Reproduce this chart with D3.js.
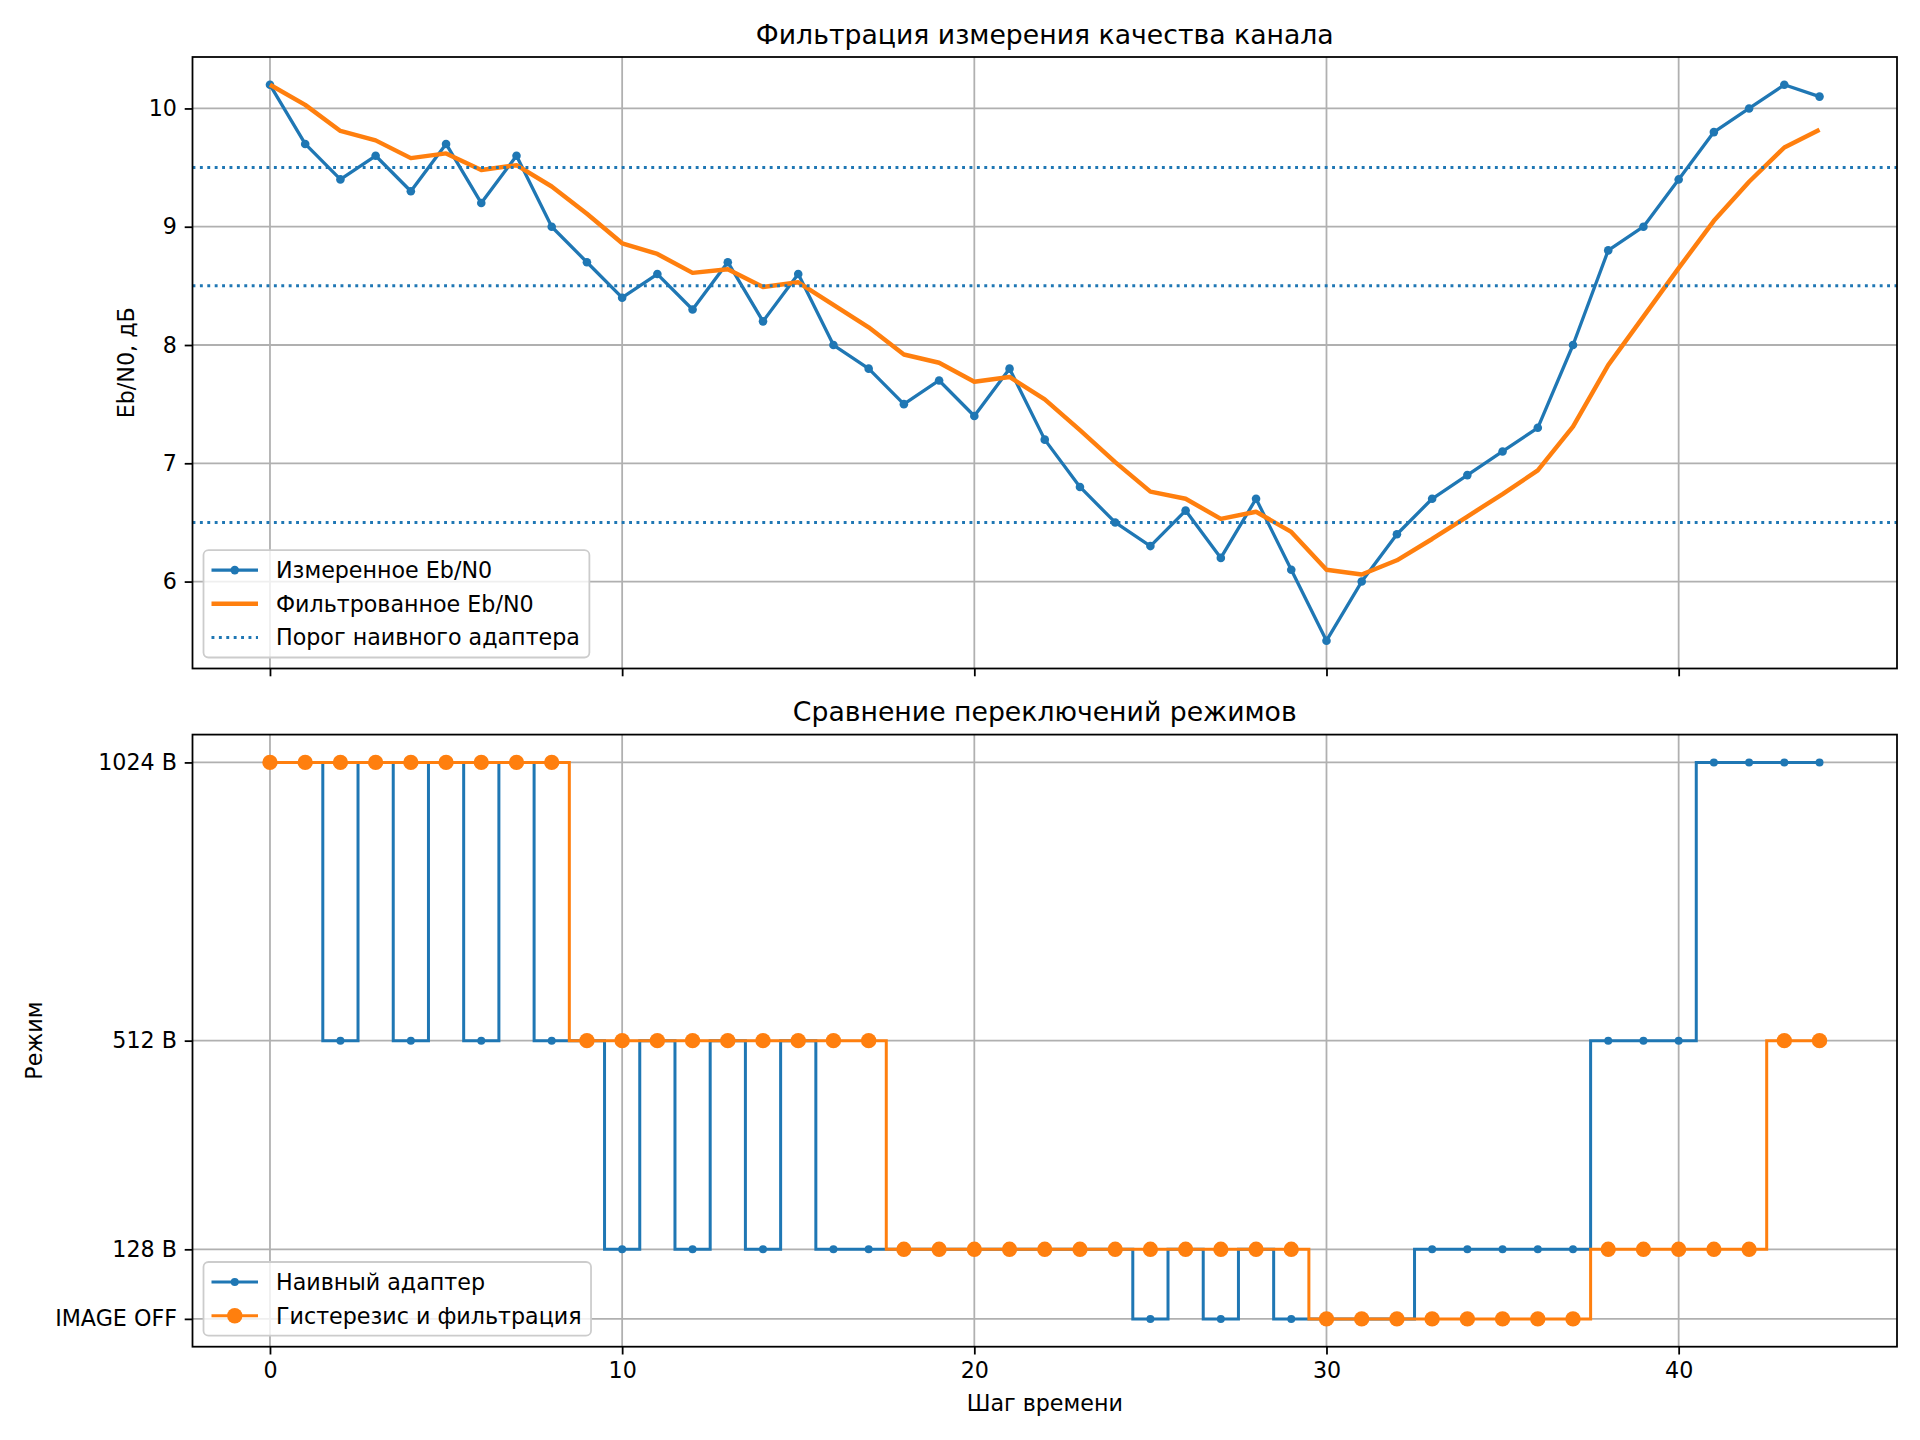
<!DOCTYPE html>
<html>
<head>
<meta charset="utf-8">
<script src="https://cdn.jsdelivr.net/npm/d3@7"></script>
<style>
  body { margin: 0; background: #ffffff; }
  text { font-family: "DejaVu Sans", sans-serif; fill: #000; }
</style>
</head>
<body>
<div class="chart"></div>
<script>
// Data
var steps = [0, 1, 2, 3, 4, 5, 6, 7, 8, 9, 10, 11, 12, 13, 14, 15, 16, 17, 18, 19, 20, 21,
  22, 23, 24, 25, 26, 27, 28, 29, 30, 31, 32, 33, 34, 35, 36, 37, 38, 39, 40, 41, 42, 43, 44];

var measured = [10.2, 9.7, 9.4, 9.6, 9.3, 9.7, 9.2, 9.6, 9.0, 8.7, 8.4, 8.6, 8.3, 8.7, 8.2,
  8.6, 8.0, 7.8, 7.5, 7.7, 7.4, 7.8, 7.2, 6.8, 6.5, 6.3, 6.6, 6.2, 6.7, 6.1, 5.5, 6.0, 6.4,
  6.7, 6.9, 7.1, 7.3, 8.0, 8.8, 9.0, 9.4, 9.8, 10.0, 10.2, 10.1];

var filtered = [10.20, 10.03, 9.81, 9.73, 9.58, 9.62, 9.48, 9.52, 9.34, 9.11, 8.86, 8.77,
  8.61, 8.64, 8.49, 8.53, 8.34, 8.15, 7.92, 7.85, 7.69, 7.73, 7.54, 7.28, 7.01, 6.76, 6.70,
  6.53, 6.59, 6.42, 6.10, 6.06, 6.18, 6.36, 6.55, 6.74, 6.94, 7.31, 7.83, 8.24, 8.65, 9.05,
  9.38, 9.67, 9.82];

var thresholds = [9.5, 8.5, 6.5];

var naiveMode = [1024, 1024, 512, 1024, 512, 1024, 512, 1024, 512, 512, 128, 512, 128, 512,
  128, 512, 128, 128, 128, 128, 128, 128, 128, 128, 128, 0, 128, 0, 128, 0, 0, 0, 0, 128,
  128, 128, 128, 128, 512, 512, 512, 1024, 1024, 1024, 1024];

var hystMode = [1024, 1024, 1024, 1024, 1024, 1024, 1024, 1024, 1024, 512, 512, 512, 512,
  512, 512, 512, 512, 512, 128, 128, 128, 128, 128, 128, 128, 128, 128, 128, 128, 128, 0, 0,
  0, 0, 0, 0, 0, 0, 128, 128, 128, 128, 128, 512, 512];

var xTicks = [0, 10, 20, 30, 40];
var ebTicks = [6, 7, 8, 9, 10];
var modeTicks = [0, 128, 512, 1024];
var modeLabels = ["IMAGE OFF", "128 B", "512 B", "1024 B"];

var blue = "#1f77b4";
var orange = "#ff7f0e";
var fs = 22.2;
var titleFs = 26.7;
var tick = 7.8;
var lw = 1.78;

var svgWidth = 1920;
var svgHeight = 1440;

var svg = d3.select(".chart")
  .append("svg")
  .attr("width", svgWidth)
  .attr("height", svgHeight);

svg.append("rect").attr("width", svgWidth).attr("height", svgHeight).attr("fill", "#fff");

// axes boxes
var top1 = { x: 192.5, y: 57, w: 1704.5, h: 611.5 };
var bot1 = { x: 192.5, y: 734.6, w: 1704.5, h: 612.1 };

var xScaleTop = d3.scaleLinear().domain([-2.2, 46.2]).range([top1.x, top1.x + top1.w]);
var xScaleBot = d3.scaleLinear().domain([-2.2, 46.2]).range([bot1.x, bot1.x + bot1.w]);
var yEb = d3.scaleLinear().domain([5.265, 10.435]).range([top1.y + top1.h, top1.y]);
var yMode = d3.scaleLinear().domain([-51.2, 1075.2]).range([bot1.y + bot1.h, bot1.y]);

function styleAxis(g) {
  g.selectAll("path").remove();
  g.selectAll("line").attr("stroke", "#000").attr("stroke-width", lw);
  g.selectAll("text").attr("font-size", fs).attr("font-family", "DejaVu Sans").attr("fill", "#000");
}

function drawGrid(box, xs, ys, yt) {
  var grid = svg.append("g");
  grid.selectAll(".gx").data(xTicks).enter().append("line")
    .attr("x1", d => xs(d)).attr("x2", d => xs(d))
    .attr("y1", box.y).attr("y2", box.y + box.h)
    .attr("stroke", "#b0b0b0").attr("stroke-width", lw);
  grid.selectAll(".gy").data(yt).enter().append("line")
    .attr("x1", box.x).attr("x2", box.x + box.w)
    .attr("y1", d => ys(d)).attr("y2", d => ys(d))
    .attr("stroke", "#b0b0b0").attr("stroke-width", lw);
}

function drawFrame(box) {
  svg.append("rect")
    .attr("x", box.x).attr("y", box.y)
    .attr("width", box.w).attr("height", box.h)
    .attr("fill", "none").attr("stroke", "#000").attr("stroke-width", lw);
}

function drawLegend(box, items) {
  var g = svg.append("g");
  var left = box.x + 11;
  var rowH = 33.7;
  var height = 20 * 2 + rowH * (items.length - 1);
  var topY = box.y + box.h - 11 - height;
  var bg = g.append("rect");
  var maxW = 0;
  items.forEach(function(it, i) {
    var cy = topY + 20 + i * rowH;
    var l = g.append("line")
      .attr("x1", left + 8).attr("x2", left + 54.5)
      .attr("y1", cy).attr("y2", cy)
      .attr("stroke", it.color).attr("stroke-width", it.width);
    if (it.dash) l.attr("stroke-dasharray", it.dash);
    if (it.r) {
      g.append("circle").attr("cx", left + 31.25).attr("cy", cy).attr("r", it.r).attr("fill", it.color);
    }
    var t = g.append("text")
      .attr("x", left + 72.5).attr("y", cy)
      .attr("dy", "0.36em")
      .attr("font-size", fs)
      .text(it.label);
    maxW = Math.max(maxW, t.node().getComputedTextLength());
  });
  bg.attr("x", left).attr("y", topY)
    .attr("width", 72.5 + maxW + 9.5).attr("height", height)
    .attr("rx", 5).attr("ry", 5)
    .attr("fill", "rgba(255,255,255,0.8)")
    .attr("stroke", "#cccccc").attr("stroke-width", lw);
}

// ============ Top chart ============
drawGrid(top1, xScaleTop, yEb, ebTicks);

var lineTop = d3.line().x((d, i) => xScaleTop(steps[i])).y(d => yEb(d));

svg.append("path").datum(measured)
  .attr("d", lineTop).attr("fill", "none")
  .attr("stroke", blue).attr("stroke-width", 3.3).attr("stroke-linejoin", "round");

svg.append("g").selectAll("circle").data(measured).enter().append("circle")
  .attr("cx", (d, i) => xScaleTop(steps[i]))
  .attr("cy", d => yEb(d))
  .attr("r", 4.3)
  .attr("fill", blue);

svg.append("path").datum(filtered)
  .attr("d", lineTop).attr("fill", "none")
  .attr("stroke", orange).attr("stroke-width", 4.44).attr("stroke-linejoin", "round");

svg.append("g").selectAll("line").data(thresholds).enter().append("line")
  .attr("x1", top1.x).attr("x2", top1.x + top1.w)
  .attr("y1", d => yEb(d)).attr("y2", d => yEb(d))
  .attr("stroke", blue).attr("stroke-width", 3)
  .attr("stroke-dasharray", "2.9,4.5");

svg.append("g")
  .attr("transform", `translate(0, ${top1.y + top1.h})`)
  .call(d3.axisBottom(xScaleTop).tickValues(xTicks).tickSize(tick).tickFormat(""))
  .call(styleAxis);

svg.append("g")
  .attr("transform", `translate(${top1.x}, 0)`)
  .call(d3.axisLeft(yEb).tickValues(ebTicks).tickSize(tick).tickPadding(tick).tickFormat(d3.format("d")))
  .call(styleAxis);

drawFrame(top1);

svg.append("text")
  .attr("x", top1.x + top1.w / 2).attr("y", 34.5)
  .attr("dy", "0.36em")
  .attr("text-anchor", "middle")
  .attr("font-size", titleFs)
  .text("Фильтрация измерения качества канала");

svg.append("text")
  .attr("transform", `translate(125.5, ${top1.y + top1.h / 2}) rotate(-90)`)
  .attr("dy", "0.36em")
  .attr("text-anchor", "middle")
  .attr("font-size", fs)
  .text("Eb/N0, дБ");

drawLegend(top1, [
  { label: "Измеренное Eb/N0", color: blue, width: 3.3, r: 4.3 },
  { label: "Фильтрованное Eb/N0", color: orange, width: 4.44 },
  { label: "Порог наивного адаптера", color: blue, width: 3, dash: "2.9,4.5" }
]);

// ============ Bottom chart ============
drawGrid(bot1, xScaleBot, yMode, modeTicks);

var stepLine = d3.line()
  .x((d, i) => xScaleBot(steps[i]))
  .y(d => yMode(d))
  .curve(d3.curveStep);

svg.append("path").datum(naiveMode)
  .attr("d", stepLine).attr("fill", "none")
  .attr("stroke", blue).attr("stroke-width", 3);

svg.append("g").selectAll("circle").data(naiveMode).enter().append("circle")
  .attr("cx", (d, i) => xScaleBot(steps[i]))
  .attr("cy", d => yMode(d))
  .attr("r", 4)
  .attr("fill", blue);

svg.append("path").datum(hystMode)
  .attr("d", stepLine).attr("fill", "none")
  .attr("stroke", orange).attr("stroke-width", 3);

svg.append("g").selectAll("circle").data(hystMode).enter().append("circle")
  .attr("cx", (d, i) => xScaleBot(steps[i]))
  .attr("cy", d => yMode(d))
  .attr("r", 7.7)
  .attr("fill", orange);

svg.append("g")
  .attr("transform", `translate(0, ${bot1.y + bot1.h})`)
  .call(d3.axisBottom(xScaleBot).tickValues(xTicks).tickSize(tick).tickPadding(tick).tickFormat(d3.format("d")))
  .call(styleAxis);

svg.append("g")
  .attr("transform", `translate(${bot1.x}, 0)`)
  .call(d3.axisLeft(yMode).tickValues(modeTicks).tickSize(tick).tickPadding(tick)
    .tickFormat((d, i) => modeLabels[i]))
  .call(styleAxis);

drawFrame(bot1);

svg.append("text")
  .attr("x", bot1.x + bot1.w / 2).attr("y", 711.5)
  .attr("dy", "0.36em")
  .attr("text-anchor", "middle")
  .attr("font-size", titleFs)
  .text("Сравнение переключений режимов");

svg.append("text")
  .attr("x", bot1.x + bot1.w / 2).attr("y", 1403)
  .attr("dy", "0.36em")
  .attr("text-anchor", "middle")
  .attr("font-size", fs)
  .text("Шаг времени");

svg.append("text")
  .attr("transform", `translate(33.5, ${bot1.y + bot1.h / 2}) rotate(-90)`)
  .attr("dy", "0.36em")
  .attr("text-anchor", "middle")
  .attr("font-size", fs)
  .text("Режим");

drawLegend(bot1, [
  { label: "Наивный адаптер", color: blue, width: 3, r: 4 },
  { label: "Гистерезис и фильтрация", color: orange, width: 3, r: 7.7 }
]);
</script>
</body>
</html>
